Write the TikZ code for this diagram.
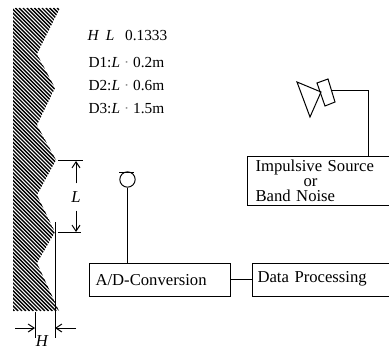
\documentclass[tikz,border=0pt]{standalone}
\usepackage{fontspec}
\setmainfont{Liberation Serif}
\usetikzlibrary{arrows.meta}
\newcommand{\faintdot}{\hspace{3pt}{\color{black!45}\textperiodcentered}\hspace{3pt}}
\tikzset{
	infotext/.style={anchor=base west,inner sep=0pt,font=\fontsize{11.5}{13}\selectfont},
	boxnode/.style={draw,anchor=north west,inner ysep=0pt,align=left,font=\fontsize{12.5}{11.25}\selectfont},
	dimtext/.style={inner sep=0pt,font=\fontsize{12.5}{14}\selectfont\itshape},
	hatchline/.style={line width=1.05pt},
}
\begin{document}
\begin{tikzpicture}[>={Straight Barb[length=4.5pt,width=6pt]},x=0.75pt,y=-0.75pt,line width=0.75pt]
	\useasboundingbox (0,0) rectangle (389,349);
	\clip (0,0) rectangle (389,349);
	\begin{scope}
		\clip (13,8) -- (60,8) -- (37,54) -- (55,88) -- (37,125) -- (56,160) -- (37,195) -- (55,232) -- (37,263) -- (59,311) -- (13,311) -- cycle;
		\foreach \i in {-300,-296.2,...,60}
			\draw[hatchline] (\i,8) -- (\i+303,311);
	\end{scope}

	\node[infotext] (ratio) at (87,41) {\textit{H}\hspace{5pt}\textit{L}\hspace{8pt}0.1333};
	\node[infotext] (dOne) at (88,68) {D1:\textit{L}\faintdot 0.2m};
	\node[infotext] (dTwo) at (88,91) {D2:\textit{L}\faintdot 0.6m};
	\node[infotext] (dThree) at (88,114) {D3:\textit{L}\faintdot 1.5m};

	\coordinate (Ltop) at (76,161);
	\coordinate (Lbot) at (76,232);
	\draw (58,161) -- (83,161);
	\draw (58,232) -- (81,232);
	\node[dimtext,minimum height=19.5pt] (Llabel) at (76,197) {L};
	\draw[->] (Llabel) -- (Ltop);
	\draw[->] (Llabel) -- (Lbot);

	\coordinate (Hleft) at (35,328);
	\coordinate (Hright) at (55,328);
	\coordinate (Hfarleft) at (15,328);
	\coordinate (Hfarright) at (76,328);
	\draw (35,312) -- (35,338);
	\draw (55,222) -- (55,338);
	\draw[->] (Hfarleft) -- (Hleft);
	\draw[->] (Hfarright) -- (Hright);
	\node[dimtext] (Hlabel) at (42,341) {H};

	\node[boxnode,inner xsep=4.5pt,text width=96.5pt,minimum height=24.5pt] (adconv) at (89,263) {A/D-Conversion};
	\node[boxnode,inner xsep=3.75pt,text width=105pt,minimum height=24.5pt] (dataproc) at (252,263) {Data Processing\vphantom{y}\vspace{2pt}};
	\node[boxnode,inner xsep=6pt,text width=105pt,minimum height=37pt] (source) at (247,156) {Impulsive Source\\\hspace*{36pt}or\\Band Noise};
	\draw (adconv) -- (adconv -| dataproc.west);

	\node[draw,circle,inner sep=0pt,minimum size=11.5pt] (mic) at (127.5,179.5) {};
	\draw (119,172.5) -- (134,172.5);
	\draw (mic) -- (mic |- adconv.north);

	\draw (297,82) -- (321,92) -- (310,117) -- cycle;
	\draw (317,83) -- (328,79) -- (335,102) -- (325,106) -- cycle;
	\coordinate (speaker) at (332,91);
	\coordinate (feed) at (368,156);
	\draw (feed) |- (speaker);
\end{tikzpicture}
\end{document}
